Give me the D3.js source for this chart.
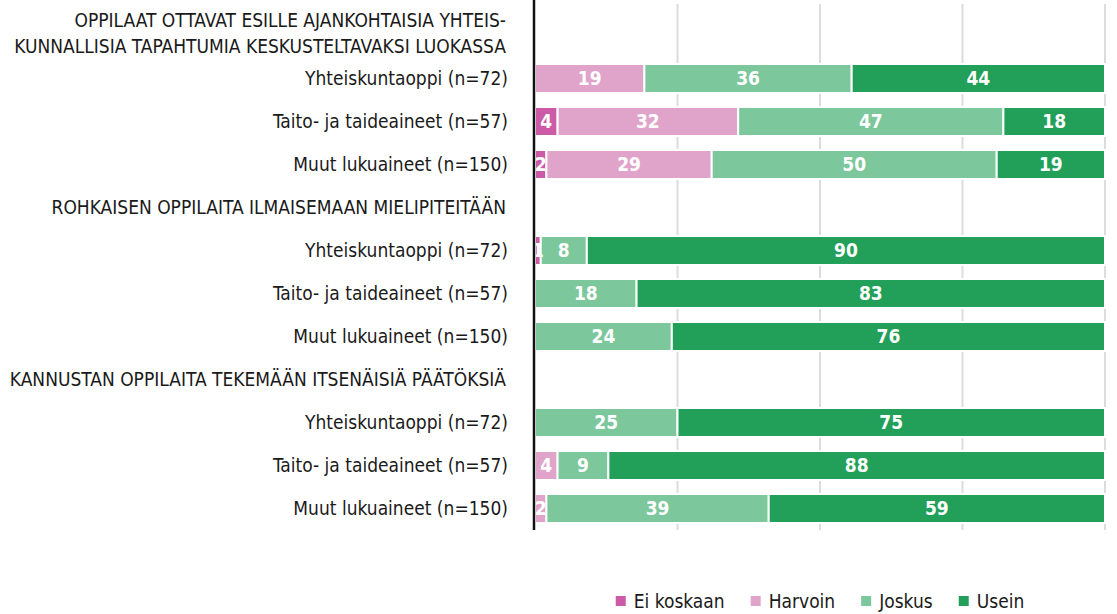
<!DOCTYPE html>
<html lang="fi">
<head>
<meta charset="utf-8">
<title>Opettajien toimintatavat</title>
<script src="https://cdn.jsdelivr.net/npm/d3@7"></script>
<style>
  body { margin: 0; background: #fff; }
  svg { display: block; font-family: "Liberation Sans Narrow", "DejaVu Sans Condensed", sans-serif; }
</style>
</head>
<body>
<svg id="chart"></svg>
<script>
// Kysymykset (otsikkorivit), aineet ja vastausvaihtoehdot
const questions = [
  ["OPPILAAT OTTAVAT ESILLE AJANKOHTAISIA YHTEIS-", "KUNNALLISIA TAPAHTUMIA KESKUSTELTAVAKSI LUOKASSA"],
  ["ROHKAISEN OPPILAITA ILMAISEMAAN MIELIPITEITÄÄN"],
  ["KANNUSTAN OPPILAITA TEKEMÄÄN ITSENÄISIÄ PÄÄTÖKSIÄ"]
];
const subjects = ["Yhteiskuntaoppi (n=72)", "Taito- ja taideaineet (n=57)", "Muut lukuaineet (n=150)"];
const answers = ["Ei koskaan", "Harvoin", "Joskus", "Usein"];
const colors = ["#cc5aa6", "#e0a4ca", "#7cc79b", "#22a059"];

// Prosentit, 3 ainetta kysymystä kohden (9 riviä)
const eiKoskaan = [0, 4, 2, 1, 0, 0, 0, 0, 0];
const harvoin   = [19, 32, 29, 0, 0, 0, 0, 4, 2];
const joskus    = [36, 47, 50, 8, 18, 24, 25, 9, 39];
const usein     = [44, 18, 19, 90, 83, 76, 75, 88, 59];
const gridTicks = [25, 50, 75, 100];

document.addEventListener("DOMContentLoaded", function() {
  const width = 1117;
  const height = 614;
  const xLeft = 535;
  const xRight = 1105;
  const labelX = 508;

  const svg = d3.select("#chart")
    .attr("width", width)
    .attr("height", height)
    .attr("viewBox", [0, 0, width, height]);

  // Build slots: one header slot + three subject rows per question
  const slots = [];
  const rows = [];
  questions.forEach((q, qi) => {
    slots.push("q" + qi);
    subjects.forEach((s, si) => {
      const i = qi * subjects.length + si;
      const id = "r" + i;
      slots.push(id);
      rows.push({
        id: id,
        label: s,
        "Ei koskaan": eiKoskaan[i],
        "Harvoin": harvoin[i],
        "Joskus": joskus[i],
        "Usein": usein[i]
      });
    });
  });

  const y = d3.scaleBand()
    .domain(slots)
    .range([14, 530])
    .paddingInner(0.326)
    .paddingOuter(0.163);

  const x = d3.scaleLinear()
    .domain([0, 1])
    .range([xLeft, xRight]);

  const color = d3.scaleOrdinal()
    .domain(answers)
    .range(colors);

  // Rounded percentages don't always add to 100, so expand each row to full width
  const series = d3.stack()
    .keys(answers)
    .offset(d3.stackOffsetExpand)(rows);

  // Gridlines
  svg.append("g")
    .selectAll("line")
    .data(gridTicks)
    .join("line")
    .attr("x1", d => x(d / 100))
    .attr("x2", d => x(d / 100))
    .attr("y1", 4)
    .attr("y2", 530)
    .attr("stroke", "#dcdcdc")
    .attr("stroke-width", 2);

  // Bars
  const layer = svg.append("g")
    .selectAll("g")
    .data(series)
    .join("g")
    .attr("fill", d => color(d.key));

  layer.selectAll("rect")
    .data(d => d.filter(p => p.data[d.key] > 0))
    .join("rect")
    .attr("x", d => x(d[0]))
    .attr("y", d => y(d.data.id))
    .attr("width", d => x(d[1]) - x(d[0]))
    .attr("height", y.bandwidth())
    .attr("stroke", "#fff")
    .attr("stroke-width", 2);

  // Value labels
  const labelLayer = svg.append("g");
  series.forEach(s => {
    labelLayer.selectAll(null)
      .data(s.filter(p => p.data[s.key] > 0))
      .join("text")
      .attr("x", d => (x(d[0]) + x(d[1])) / 2)
      .attr("y", d => y(d.data.id) + y.bandwidth() / 2)
      .attr("dy", "0.36em")
      .attr("text-anchor", "middle")
      .attr("font-size", "19px")
      .attr("font-weight", "bold")
      .attr("fill", "#fff")
      .text(d => d.data[s.key]);
  });

  // Left axis line
  svg.append("line")
    .attr("x1", 534)
    .attr("x2", 534)
    .attr("y1", 0)
    .attr("y2", 530)
    .attr("stroke", "#111")
    .attr("stroke-width", 2.5);

  // Subject labels
  svg.append("g")
    .selectAll("text")
    .data(rows)
    .join("text")
    .attr("x", labelX)
    .attr("y", d => y(d.id) + y.bandwidth() / 2)
    .attr("dy", "0.36em")
    .attr("text-anchor", "end")
    .attr("font-size", "19px")
    .attr("fill", "#1a1a1a")
    .text(d => d.label);

  // Question headers
  questions.forEach((lines, qi) => {
    const cy = y("q" + qi) + y.bandwidth() / 2;
    lines.forEach((line, li) => {
      svg.append("text")
        .attr("x", labelX - 2)
        .attr("y", cy + (li - (lines.length - 1) / 2) * 26 - (lines.length > 1 ? 2 : 0))
        .attr("dy", "0.36em")
        .attr("text-anchor", "end")
        .attr("font-size", "19px")
        .attr("fill", "#1a1a1a")
        .text(line);
    });
  });

  // Legend, centered under the bars
  const legend = svg.append("g");
  const items = legend.selectAll("g")
    .data(answers)
    .join("g");

  items.append("rect")
    .attr("width", 10)
    .attr("height", 10)
    .attr("y", 596)
    .attr("fill", d => color(d));

  items.append("text")
    .attr("x", 18)
    .attr("y", 601)
    .attr("dy", "0.36em")
    .attr("font-size", "19px")
    .attr("fill", "#1a1a1a")
    .text(d => d);

  let pos = 0;
  const offsets = [];
  items.each(function() {
    offsets.push(pos);
    pos += this.getBBox().width + 26;
  });
  const total = pos - 26;
  const start = (xLeft + xRight) / 2 - total / 2;
  items.attr("transform", (d, i) => `translate(${start + offsets[i]},0)`);
});
</script>
</body>
</html>
